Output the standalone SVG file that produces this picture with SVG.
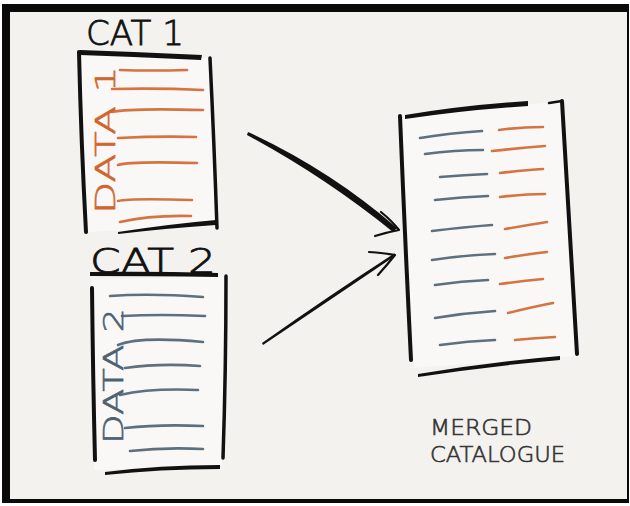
<svg xmlns="http://www.w3.org/2000/svg" width="630" height="506" viewBox="0 0 630 506">
  <style>
    .ink { fill: none; stroke: #111; stroke-linecap: round; stroke-linejoin: round; }
    .or { fill: none; stroke: #d0652f; stroke-width: 2.6; stroke-linecap: round; opacity: 0.9; }
    .bl { fill: none; stroke: #4d6171; stroke-width: 2.6; stroke-linecap: round; opacity: 0.9; }
    .hand { font-family: "DejaVu Sans", "Liberation Sans", sans-serif; font-weight: 200; }
    .sheet { fill: #f9f8f6; stroke: none; }
  </style>
  <rect x="0" y="0" width="630" height="506" fill="#ffffff"/>
  <rect x="2" y="4" width="627" height="499" fill="#0a0a0a"/>
  <rect x="10" y="12" width="617" height="487" fill="#f3f2ef"/>

  <g id="cat1">
    <polygon class="sheet" points="80,54 208,58 216,226 86,232"/>
    <text class="hand" x="86" y="45" font-size="34" fill="#111" stroke="#111" stroke-width="0.8" textLength="98" lengthAdjust="spacingAndGlyphs">CAT 1</text>
    <path class="ink" stroke-width="4" d="M79,52 Q81,140 86,232"/>
    <path d="M80,50 Q140,52 202,55 L201,60 Q140,57 80,55 Z" fill="#111"/>
    <path class="ink" stroke-width="3.5" d="M210,58 Q214,140 217,228"/>
    <path d="M118,232 Q170,224 216,220 L216,225 Q170,228 118,234 Z" fill="#111"/>
    <text class="hand" transform="translate(115,214) rotate(-90)" font-size="26" fill="#d0652f" stroke="#d0652f" stroke-width="0.6" textLength="148" lengthAdjust="spacingAndGlyphs">DATA 1</text>
    <path class="or" d="M120,70 Q150,71 187,70"/>
    <path class="or" d="M112,89 Q160,88 203,90"/>
    <path class="or" d="M112,112 Q130,108 203,110"/>
    <path class="or" d="M118,138 Q160,136 196,137"/>
    <path class="or" d="M118,165 Q130,161 197,163"/>
    <path class="or" d="M118,201 Q130,198 192,200"/>
    <path class="or" d="M120,222 Q150,215 191,216"/>
  </g>

  <g id="cat2">
    <polygon class="sheet" points="92,280 224,276 222,466 94,470"/>
    <text class="hand" x="90" y="273" font-size="34" fill="#111" stroke="#111" stroke-width="0.8" textLength="126" lengthAdjust="spacingAndGlyphs">CAT 2</text>
    <path d="M90,272 Q150,271 218,273 L218,277 Q150,276 90,276 Z" fill="#111"/>
    <path class="ink" stroke-width="4" d="M92,288 Q93,380 95,460"/>
    <path class="ink" stroke-width="3.5" d="M226,276 Q226,370 223,458"/>
    <path d="M105,472 Q160,465 220,465 L220,469 Q160,469 105,475 Z" fill="#111"/>
    <text class="hand" transform="translate(123,444) rotate(-90)" font-size="26" fill="#4d6171" stroke="#4d6171" stroke-width="0.6" textLength="136" lengthAdjust="spacingAndGlyphs">DATA 2</text>
    <path class="bl" d="M110,296 Q150,293 203,297"/>
    <path class="bl" d="M122,316 Q160,314 205,316"/>
    <path class="bl" d="M118,345 Q140,336 203,342"/>
    <path class="bl" d="M125,368 Q160,363 200,366"/>
    <path class="bl" d="M120,395 Q150,388 198,390"/>
    <path class="bl" d="M125,428 Q160,424 203,426"/>
    <path class="bl" d="M130,451 Q165,447 203,449"/>
  </g>

  <g id="merged">
    <polygon class="sheet" points="402,118 562,101 577,356 414,368"/>
    <path class="ink" stroke-width="4" d="M400,116 Q405,240 411,360"/>
    <path d="M405,115 Q465,105 528,101 L528,106 Q465,110 405,119 Z" fill="#111"/>
    <path class="ink" stroke-width="2.5" d="M549,103 L562,101"/>
    <path class="ink" stroke-width="4" d="M562,101 Q570,230 577,354"/>
    <path d="M418,374 Q490,362 560,356 L560,360 Q490,366 418,377 Z" fill="#111"/>
    <path class="bl" d="M420,138 Q450,133 482,131"/>
    <path class="or" d="M499,130 Q520,127 543,127"/>
    <path class="bl" d="M425,154 Q455,150 483,150"/>
    <path class="or" d="M492,151 Q520,148 545,146"/>
    <path class="bl" d="M440,177 Q465,175 487,174"/>
    <path class="or" d="M500,173 Q525,170 543,169"/>
    <path class="bl" d="M435,200 Q462,197 488,196"/>
    <path class="or" d="M500,197 Q525,194 545,194"/>
    <path class="bl" d="M432,231 Q465,227 492,225"/>
    <path class="or" d="M505,229 Q528,225 547,222"/>
    <path class="bl" d="M432,260 Q465,255 495,254"/>
    <path class="or" d="M505,258 Q528,254 547,252"/>
    <path class="bl" d="M435,285 Q462,281 488,280"/>
    <path class="or" d="M500,284 Q522,281 543,279"/>
    <path class="bl" d="M435,318 Q465,313 495,311"/>
    <path class="or" d="M508,313 Q532,307 553,303"/>
    <path class="bl" d="M440,345 Q468,341 495,340"/>
    <path class="or" d="M515,340 Q535,338 555,337"/>
    <text class="hand" x="430" y="435" font-size="22" fill="#333" stroke="#333" stroke-width="0.6" textLength="102" lengthAdjust="spacingAndGlyphs">MERGED</text>
    <text class="hand" x="430" y="462" font-size="22" fill="#333" stroke="#333" stroke-width="0.6" textLength="135" lengthAdjust="spacingAndGlyphs">CATALOGUE</text>
  </g>

  <g id="connectors">
    <path d="M248,132 Q330,170 397,228 L393,232 Q325,177 247,135 Z" fill="#111"/>
    <path class="ink" stroke-width="2.2" d="M381,212 Q392,221 399,230 Q388,232 375,236"/>
    <path d="M262,343 Q330,295 395,253 L392,258 Q330,300 263,345 Z" fill="#111"/>
    <path class="ink" stroke-width="2.2" d="M369,252 Q384,253 395,255 Q387,265 378,275"/>
  </g>
</svg>
